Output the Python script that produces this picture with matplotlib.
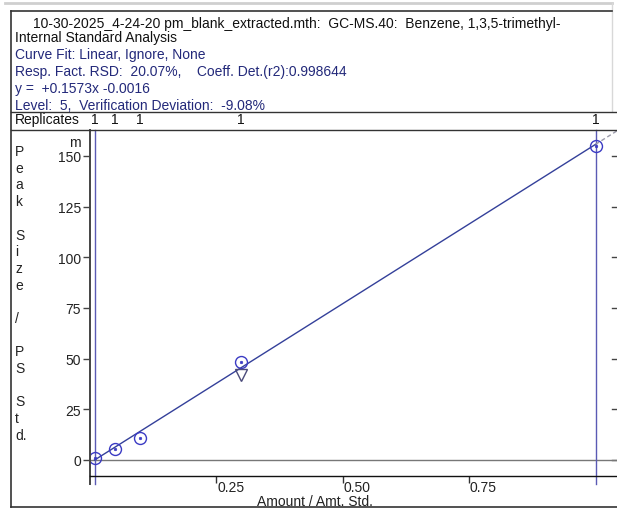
import matplotlib
matplotlib.use("Agg")
import numpy as np
import matplotlib.pyplot as plt
from matplotlib.lines import Line2D
from matplotlib.transforms import blended_transform_factory

plt.rcParams['font.family'] = ['Liberation Sans', 'DejaVu Sans']

# calibration data (response in milli units of Peak Size / PS Std.)
amounts = [0.01, 0.05, 0.10, 0.30, 1.00]
responses = [1.0, 5.5, 10.8, 48.3, 154.8]
replicates = [1, 1, 1, 1, 1]
verif_amount = 0.30
verif_response = 41.9
slope = 0.1573
intercept = -0.0016

header = [
    "10-30-2025_4-24-20 pm_blank_extracted.mth:  GC-MS.40:  Benzene, 1,3,5-trimethyl-",
    "Internal Standard Analysis",
    "Curve Fit: Linear, Ignore, None",
    "Resp. Fact. RSD:  20.07%,    Coeff. Det.(r2):0.998644",
    "y =  +0.1573x -0.0016",
    "Level:  5,  Verification Deviation:  -9.08%",
]
yticks = [0, 25, 50, 75, 100, 125, 150]
xticks = [0.25, 0.50, 0.75]
xtick_labels = ["0.25", "0.50", "0.75"]
ylabel_chars = ["P", "e", "a", "k", "", "S", "i", "z", "e", "", "/", "",
                "P", "S", "", "S", "t", "d."]

W, H = 617, 510
def fx(px):
    return px / W
def fy(py):
    return 1 - py / H

fig = plt.figure(figsize=(W / 100, H / 100), dpi=100)

# outer frames and header rules
def hline(y, x0, x1, color="#333333", lw=1.0):
    fig.add_artist(Line2D([fx(x0), fx(x1)], [fy(y), fy(y)], color=color, lw=lw))
def vline(x, y0, y1, color="#333333", lw=1.0):
    fig.add_artist(Line2D([fx(x), fx(x)], [fy(y0), fy(y1)], color=color, lw=lw))

hline(4, 5, 612, color="#cfcfcf", lw=2.0)
vline(612, 4, 112, color="#d8d8d8", lw=1.0)
hline(12, 11, 612, lw=1.2)
vline(11, 12, 508, lw=1.2)
hline(508, 11, 617, lw=1.2)
hline(113, 11, 617, lw=1.0)
hline(131, 11, 617, lw=1.0)

# header text
fs = 10
navy = "#23297a"
baselines = [28, 42, 59, 76, 93, 110]
for i, (txt, yb) in enumerate(zip(header, baselines)):
    x0 = 33 if i == 0 else 15
    col = "#111111" if i < 2 else navy
    fig.text(fx(x0), fy(yb), txt, fontsize=fs, color=col, va="baseline", ha="left")
fig.text(fx(15), fy(124), "Replicates", fontsize=fs, color="#111111", va="baseline")

# vertical y label, one character per line
for i, ch in enumerate(ylabel_chars):
    if ch:
        fig.text(fx(15), fy(152 + i * 16.7), ch, fontsize=fs, color="#222222",
                 va="center", ha="left")

ax = fig.add_axes([fx(89.5), fy(477), (W - 89.5) / W, (477 - 131) / H])
ax.set_xlim(0, 527.5 / 506)
ax.set_ylim(-7.9, 162.8)

for s in ["top", "right"]:
    ax.spines[s].set_visible(False)
ax.spines["left"].set_color("#444444")
ax.spines["left"].set_linewidth(1.4)
ax.spines["bottom"].set_color("#111111")
ax.spines["bottom"].set_linewidth(1.0)

ax.set_yticks(yticks)
ax.set_yticklabels([str(v) for v in yticks])
ax.tick_params(axis="y", left=True, right=False, direction="out",
               length=5, width=1, color="#444444", pad=1, labelsize=fs,
               labelcolor="#222222")
# short inward marks on the right edge
for yv in yticks:
    ax.plot([1 - 5 / 527.5, 1], [yv, yv], transform=ax.get_yaxis_transform(),
            color="#444444", lw=1.0, clip_on=False)

ax.set_xticks(xticks)
ax.set_xticklabels([])
ax.tick_params(axis="x", direction="out", length=5, width=1, color="#333333")
for xv, lbl in zip(xticks, xtick_labels):
    ax.annotate(lbl, xy=(xv, 0), xycoords=("data", "axes fraction"),
                xytext=(1, -4), textcoords="offset pixels", ha="left", va="top",
                fontsize=fs, color="#222222", annotation_clip=False)
fig.text(fx(315), fy(502), "Amount / Amt. Std.", fontsize=fs, color="#222222",
         ha="center", va="center")
fig.text(fx(75), fy(143), "m", fontsize=fs, color="#222222", ha="center", va="center")

xform = ax.get_xaxis_transform()
ax.plot([0, 0], [-0.023, 0], transform=xform, color="#444444", lw=1.4, clip_on=False)

# zero line
ax.axhline(0, color="#777777", lw=1.0)

# calibration range limits
for xv in (amounts[0], amounts[-1]):
    ax.plot([xv, xv], [-0.023, 1], transform=xform, color="#5a5ab4", lw=1.0,
            clip_on=False)

# fitted line, solid inside calibration range, dashed beyond
xs = np.array([amounts[0], amounts[-1]])
ax.plot(xs, (slope * xs + intercept) * 1000, color="#34409a", lw=1.0)
xe = np.array([amounts[-1], 527.5 / 506])
ax.plot(xe, (slope * xe + intercept) * 1000, color="#9a9aaa", lw=1.0, ls=(0, (3, 2)))

# calibration points
blue = "#3b3bc4"
ax.plot(amounts, responses, ls="none", marker="o", ms=8.6, mfc="none", mec=blue, mew=1.0)
ax.plot(amounts, responses, ls="none", marker="o", ms=1.8, mfc=blue, mec=blue, mew=0.5)
ax.plot([verif_amount], [verif_response], ls="none", marker="v", ms=8, mfc="none",
        mec="#4a4a7a", mew=1.0)

# replicate counts above each level
rep_tr = blended_transform_factory(ax.transData, fig.transFigure)
for xv, n in zip(amounts, replicates):
    ax.text(xv, fy(124), str(n), transform=rep_tr, fontsize=fs, color="#111111",
            ha="center", va="baseline", clip_on=False)

fig.savefig("out.png", dpi=100)
